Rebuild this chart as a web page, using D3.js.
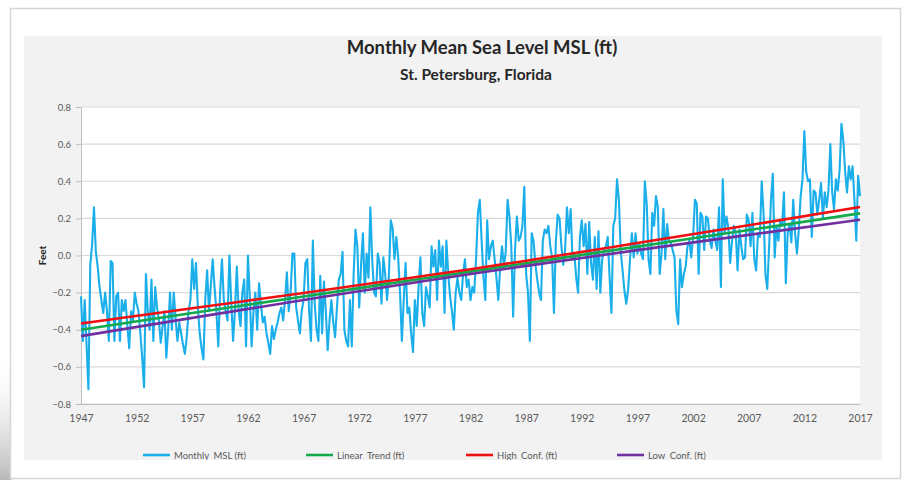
<!DOCTYPE html>
<html><head><meta charset="utf-8">
<script src="https://cdn.jsdelivr.net/npm/d3@7"></script>
<style>html,body{margin:0;padding:0;background:#fff;}svg{display:block;}</style>
</head><body>
<svg id="chart" width="905" height="480"></svg>
<script>
// ---- data ----
const startYear = 1947;
const samplesPerYear = 6;
// bi-monthly readings of Monthly_MSL (ft), one row per year
const mslRows = [
  [-0.22,-0.46,-0.24,-0.48,-0.72,-0.05], // 1947
  [0.06,0.26,0.02,-0.06,-0.17,-0.24],
  [-0.31,-0.20,-0.30,-0.46,-0.03,-0.04],
  [-0.46,-0.22,-0.20,-0.46,-0.24,-0.30], // 1950
  [-0.24,-0.38,-0.50,-0.30,-0.35,-0.20],
  [-0.26,-0.30,-0.42,-0.55,-0.71,-0.10],
  [-0.30,-0.40,-0.13,-0.46,-0.17,-0.28],
  [-0.35,-0.47,-0.38,-0.30,-0.55,-0.40],
  [-0.20,-0.40,-0.20,-0.34,-0.46,-0.36], // 1955
  [-0.42,-0.48,-0.53,-0.44,-0.30,-0.24],
  [-0.02,-0.18,-0.04,-0.28,-0.42,-0.50],
  [-0.56,-0.24,-0.08,-0.30,-0.16,-0.02],
  [-0.17,-0.30,-0.49,-0.20,-0.02,-0.24],
  [-0.30,-0.35,0.00,-0.25,-0.46,-0.30], // 1960
  [-0.06,-0.30,-0.38,-0.20,-0.13,-0.49],
  [0.00,-0.22,-0.49,-0.30,-0.20,-0.40],
  [-0.15,-0.26,-0.36,-0.33,-0.42,-0.47],
  [-0.53,-0.38,-0.45,-0.40,-0.36,-0.31],
  [-0.28,-0.35,-0.24,-0.09,-0.30,-0.20], // 1965
  [0.01,0.01,-0.28,-0.35,-0.42,-0.30],
  [-0.24,-0.04,-0.02,-0.30,-0.46,0.08],
  [-0.26,-0.40,-0.46,-0.11,-0.42,-0.14],
  [-0.30,-0.51,-0.35,-0.24,-0.36,-0.44],
  [-0.28,-0.13,-0.10,0.02,-0.40,-0.46], // 1970
  [-0.49,-0.24,-0.49,-0.10,0.14,0.05],
  [-0.28,-0.05,0.12,-0.20,0.01,-0.12],
  [0.26,-0.02,-0.20,-0.22,0.01,-0.04],
  [-0.26,-0.01,-0.10,-0.24,-0.11,0.19],
  [0.15,-0.02,0.10,-0.01,-0.20,-0.46], // 1975
  [-0.24,-0.04,-0.31,-0.28,-0.42,-0.52],
  [-0.24,-0.38,-0.17,-0.01,-0.31,-0.38],
  [-0.17,-0.22,-0.28,0.05,-0.06,0.03],
  [-0.24,0.08,-0.06,0.05,-0.31,0.08],
  [-0.10,-0.22,-0.30,-0.40,-0.20,-0.12], // 1980
  [-0.20,-0.24,-0.10,-0.02,-0.17,-0.13],
  [-0.24,-0.17,-0.20,-0.02,0.23,0.30],
  [0.08,-0.12,-0.24,0.19,-0.02,0.05],
  [0.08,-0.02,-0.12,-0.24,-0.06,0.05],
  [-0.06,0.02,0.30,0.21,0.05,-0.33], // 1985
  [0.03,0.21,0.08,0.10,0.16,0.37],
  [-0.10,-0.20,-0.46,0.12,0.08,-0.05],
  [-0.13,-0.20,-0.24,0.08,0.14,0.12],
  [0.16,0.05,-0.01,-0.31,0.07,0.22],
  [0.20,0.05,-0.05,0.03,0.26,0.12], // 1990
  [0.25,-0.02,0.01,-0.12,-0.20,0.10],
  [0.19,0.05,0.17,-0.10,0.18,-0.04],
  [-0.13,0.10,-0.18,0.13,-0.20,-0.02],
  [0.03,0.05,0.10,-0.12,-0.31,0.16],
  [0.20,0.41,0.30,0.02,-0.08,-0.19], // 1995
  [-0.26,-0.18,-0.02,0.12,-0.01,0.12],
  [0.01,0.06,0.01,-0.02,0.40,0.28],
  [-0.02,-0.10,0.23,0.16,0.32,0.26],
  [-0.10,0.01,0.25,-0.02,0.17,0.08],
  [0.07,0.03,-0.01,-0.30,-0.37,-0.02], // 2000
  [-0.17,-0.10,-0.06,0.05,0.08,-0.01],
  [0.10,0.30,0.28,-0.10,0.23,0.21],
  [0.03,0.21,0.20,0.08,0.04,0.14],
  [0.08,0.03,0.26,-0.17,0.41,0.12],
  [0.21,0.15,-0.04,0.08,0.16,0.12], // 2005
  [-0.08,0.14,0.05,-0.02,-0.01,0.22],
  [0.19,0.05,0.23,-0.02,-0.08,0.12],
  [0.10,0.40,0.23,-0.10,-0.18,0.05],
  [0.30,0.44,-0.01,0.16,0.08,0.19],
  [0.16,0.34,-0.15,0.12,0.17,0.07], // 2010
  [0.30,0.12,0.01,0.14,0.32,0.41],
  [0.67,0.45,0.40,0.41,0.10,0.35],
  [0.34,0.22,0.30,0.39,0.20,0.34],
  [0.26,0.35,0.60,0.34,0.25,0.41],
  [0.35,0.46,0.71,0.62,0.45,0.34], // 2015
  [0.48,0.41,0.48,0.30,0.08,0.43],
  [0.32]                           // 2017
];
// trend and confidence lines read at these years
const trendYears = [1947, 1957, 1967, 1977, 1982, 1987, 1997, 2007, 2017];
const linearTrend = [-0.400, -0.310, -0.221, -0.131, -0.087, -0.042, 0.048, 0.137, 0.227];
const highConf    = [-0.366, -0.284, -0.202, -0.117, -0.074, -0.028, 0.067, 0.163, 0.261];
const lowConf     = [-0.434, -0.336, -0.240, -0.145, -0.100, -0.056, 0.029, 0.111, 0.193];
const xTicks = [1947,1952,1957,1962,1967,1972,1977,1982,1987,1992,1997,2002,2007,2012,2017];
const yTicks = [-0.8,-0.6,-0.4,-0.2,0.0,0.2,0.4,0.6,0.8];
const seriesNames = ["Monthly_MSL (ft)","Linear_Trend (ft)","High_Conf. (ft)","Low_Conf. (ft)"];
const seriesColors = ["#1AAFEB","#16A94C","#F01010","#7030A0"];
const title = "Monthly Mean Sea Level MSL (ft)";
const subtitle = "St. Petersburg, Florida";
const yTitle = "Feet";

// ---- drawing ----
const svg = d3.select("#chart");
const FONT = "Lato, 'Open Sans', sans-serif";
const W = 905, H = 480;
const plot = {left:81, right:860, top:107, bottom:404};

const defs = svg.append("defs");
const grad = defs.append("linearGradient").attr("id","shade").attr("x1",0).attr("y1",0).attr("x2",0).attr("y2",1);
grad.append("stop").attr("offset","0%").attr("stop-color","#fff").attr("stop-opacity",0);
grad.append("stop").attr("offset","100%").attr("stop-color","#b8b8b8").attr("stop-opacity",1);

svg.append("rect").attr("width",W).attr("height",H).attr("fill","#fff");
svg.append("rect").attr("x",0).attr("y",350).attr("width",12).attr("height",130).attr("fill","url(#shade)");
svg.append("rect").attr("x",10.5).attr("y",8.5).attr("width",890).attr("height",470)
  .attr("fill","#fff").attr("stroke","#d6d6d6").attr("stroke-width",1.5);
svg.append("rect").attr("x",24).attr("y",36).attr("width",858).attr("height",424).attr("fill","#f2f2f2");
svg.append("rect").attr("x",plot.left).attr("y",plot.top).attr("width",plot.right-plot.left)
  .attr("height",plot.bottom-plot.top).attr("fill","#fff");

const x = d3.scaleLinear().domain([1947, 2017]).range([plot.left, plot.right]);
const y = d3.scaleLinear().domain([-0.8, 0.8]).range([plot.bottom, plot.top]);

// gridlines
svg.append("g").selectAll("line").data(yTicks).join("line")
  .attr("x1",plot.left).attr("x2",plot.right)
  .attr("y1",d=>y(d)).attr("y2",d=>y(d))
  .attr("stroke","#d9d9d9").attr("stroke-width",1.2);

// y axis
const yAxis = svg.append("g").attr("transform",`translate(${plot.left},0)`)
  .call(d3.axisLeft(y).tickValues(yTicks).tickFormat(d3.format(".1f")).tickSize(5).tickPadding(5));
yAxis.select(".domain").attr("stroke","#bfbfbf");
yAxis.selectAll(".tick line").attr("stroke","#bfbfbf");
yAxis.selectAll("text").attr("font-family",FONT).attr("font-size","9.5px").attr("fill","#595959");

// x axis
const xAxis = svg.append("g").attr("transform",`translate(0,${plot.bottom})`)
  .call(d3.axisBottom(x).tickValues(xTicks).tickFormat(d3.format("d")).tickSize(0).tickPadding(11));
xAxis.select(".domain").attr("stroke","#bfbfbf");
xAxis.selectAll("text").attr("font-family",FONT).attr("font-size","10.5px").attr("fill","#595959");

// data
const msl = mslRows.flat().map((v,i)=>({t:startYear + i/samplesPerYear, v}));
const line = d3.line().x(d=>x(d.t)).y(d=>y(d.v));
svg.append("path").datum(msl).attr("d",line).attr("fill","none")
  .attr("stroke",seriesColors[0]).attr("stroke-width",2.1).attr("stroke-linejoin","round");

const smooth = d3.line().x(d=>x(d.t)).y(d=>y(d.v)).curve(d3.curveMonotoneX);
[linearTrend, highConf, lowConf].forEach((s,k)=>{
  const pts = trendYears.map((t,i)=>({t, v:s[i]}));
  svg.append("path").datum(pts).attr("d",smooth).attr("fill","none")
    .attr("stroke",seriesColors[k+1]).attr("stroke-width",2.6);
});

// titles
svg.append("text").attr("x",482).attr("y",54).attr("text-anchor","middle")
  .attr("font-family",FONT).attr("font-weight","bold").attr("font-size","18.5px").attr("fill","#262626").text(title);
svg.append("text").attr("x",476).attr("y",80).attr("text-anchor","middle")
  .attr("font-family",FONT).attr("font-weight","bold").attr("font-size","15.5px").attr("fill","#262626").text(subtitle);
svg.append("text").attr("transform",`translate(46,${(plot.top+plot.bottom)/2}) rotate(-90)`)
  .attr("text-anchor","middle").attr("font-family",FONT).attr("font-weight","bold")
  .attr("font-size","10px").attr("fill","#262626").text(yTitle);

// legend
const legX = [143, 306, 466, 617];
const leg = svg.append("g").selectAll("g").data(seriesNames).join("g")
  .attr("transform",(d,i)=>`translate(${legX[i]},455)`);
leg.append("line").attr("x1",0).attr("x2",27).attr("y1",0).attr("y2",0)
  .attr("stroke",(d,i)=>seriesColors[i]).attr("stroke-width",2.6);
leg.append("text").attr("x",31).attr("y",3.5).attr("font-family",FONT).attr("font-size","9.5px")
  .attr("fill","#595959").text(d=>d);
svg.append("rect").attr("x",24).attr("y",460).attr("width",858).attr("height",17).attr("fill","#fff");
</script>
</body></html>
